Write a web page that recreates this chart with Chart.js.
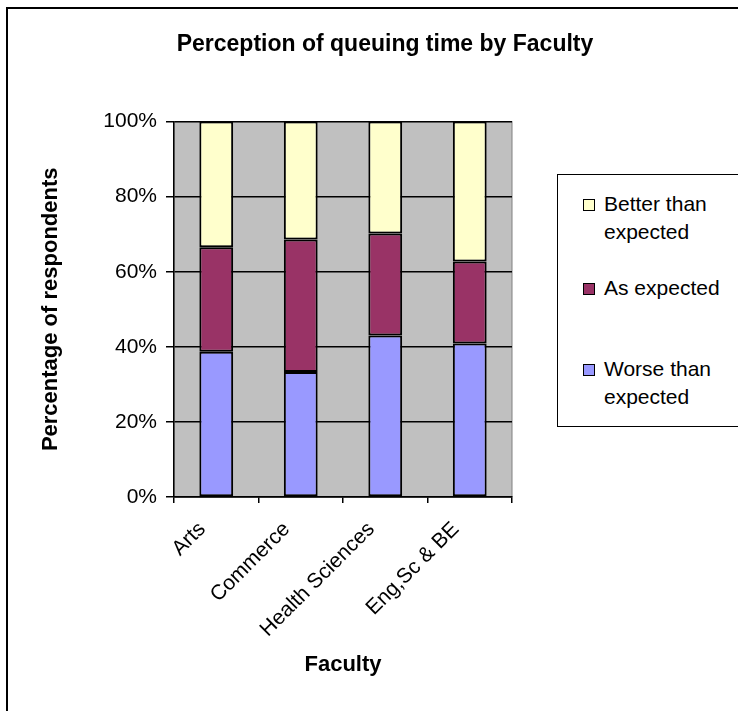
<!DOCTYPE html>
<html>
<head>
<meta charset="utf-8">
<script src="https://cdn.jsdelivr.net/npm/chart.js@4"></script>
<style>
  html, body { margin: 0; padding: 0; background: #fff; overflow: hidden; }
  #wrap { position: relative; width: 738px; height: 711px; overflow: hidden; }
  #frame { position: absolute; left: 6px; top: 7px; width: 800px; height: 800px;
           border: 2px solid #000; box-sizing: border-box; pointer-events: none; }
  #legend { position: absolute; left: 557px; top: 174px; width: 260px; height: 253px;
            border: 1.5px solid #000; box-sizing: border-box; background: #fff;
            font: 21px "Liberation Sans", Arial, sans-serif; color: #000; }
  .item { position: relative; padding-left: 46px; line-height: 28px; width: 135px; }
  .item .sw { position: absolute; left: 25px; top: 9px; width: 10px; height: 10px;
              border: 1px solid #000; }
</style>
</head>
<body>
<div id="wrap">
  <canvas id="chart" width="770" height="711"></canvas>
  <div id="legend"></div>
  <div id="frame"></div>
</div>
<script>
const faculties = ['Arts', 'Commerce', 'Health Sciences', 'Eng,Sc & BE'];
const worse = [38.7, 33.3, 43.0, 40.9];
const asExpected = [27.8, 35.3, 27.2, 21.8];
const better = [33.5, 31.4, 29.8, 37.3];
const yTicks = [0, 20, 40, 60, 80, 100];

const font = '"Liberation Sans", Arial, sans-serif';

const plotBg = {
  id: 'plotBg',
  beforeDraw(chart) {
    const { ctx, chartArea: a } = chart;
    ctx.save();
    ctx.fillStyle = '#C0C0C0';
    ctx.fillRect(a.left, a.top, a.right - a.left, a.bottom - a.top);
    ctx.strokeStyle = '#808080';
    ctx.lineWidth = 1;
    ctx.strokeRect(a.left, a.top, a.right - a.left, a.bottom - a.top);
    ctx.restore();
  }
};

const chart = new Chart(document.getElementById('chart'), {
  type: 'bar',
  data: {
    labels: faculties,
    datasets: [
      { label: 'Worse than expected', data: worse, backgroundColor: '#9999FF' },
      { label: 'As expected', data: asExpected, backgroundColor: '#993366' },
      { label: 'Better than expected', data: better, backgroundColor: '#FFFFCC' }
    ].map(d => Object.assign(d, {
      borderColor: '#000', borderWidth: 2, borderSkipped: false,
      categoryPercentage: 1, barPercentage: 0.4
    }))
  },
  options: {
    responsive: false,
    animation: false,
    layout: { padding: 0 },
    plugins: {
      legend: { display: false },
      tooltip: { enabled: false },
      title: {
        display: true,
        text: 'Perception of queuing time by Faculty',
        color: '#000',
        font: { family: font, size: 23, weight: 'bold' },
        padding: { top: 31, bottom: 63 }
      }
    },
    scales: {
      x: {
        stacked: true,
        afterFit: s => { s.height = 214; },
        grid: { drawOnChartArea: false, offset: true, color: '#000', lineWidth: 1.5, tickLength: 6 },
        border: { color: '#000', width: 1.5 },
        ticks: { color: '#000', font: { family: font, size: 21 }, minRotation: 45, maxRotation: 45,
                 padding: 14, labelOffset: -14 },
        title: {
          display: true, text: 'Faculty', color: '#000',
          font: { family: font, size: 22, weight: 'bold' },
          padding: { top: 0, bottom: 33 }
        }
      },
      y: {
        stacked: true,
        min: 0, max: 100,
        afterFit: s => { s.width = 174; },
        afterBuildTicks: s => { s.ticks = yTicks.map(v => ({ value: v })); },
        grid: { color: '#000', lineWidth: 1.5, tickLength: 8 },
        border: { color: '#000', width: 1.5 },
        ticks: { color: '#000', font: { family: font, size: 21 }, padding: 9, callback: v => v + '%' },
        title: {
          display: true, text: 'Percentage of respondents', color: '#000',
          font: { family: font, size: 22, weight: 'bold' },
          padding: { top: 38, bottom: 0 }
        }
      },
      y2: {
        position: 'right',
        afterFit: s => { s.width = 258; },
        grid: { display: false },
        border: { display: false },
        ticks: { display: false }
      }
    }
  },
  plugins: [plotBg]
});

// legend drawn as html, in reverse stack order like the original
const legend = document.getElementById('legend');
const gaps = [15, 28, 53];
chart.data.datasets.slice().reverse().forEach((ds, i) => {
  const item = document.createElement('div');
  item.className = 'item';
  item.style.marginTop = gaps[i] + 'px';
  item.innerHTML = `<span class="sw" style="background:${ds.backgroundColor}"></span>${ds.label}`;
  legend.appendChild(item);
});
</script>
</body>
</html>
